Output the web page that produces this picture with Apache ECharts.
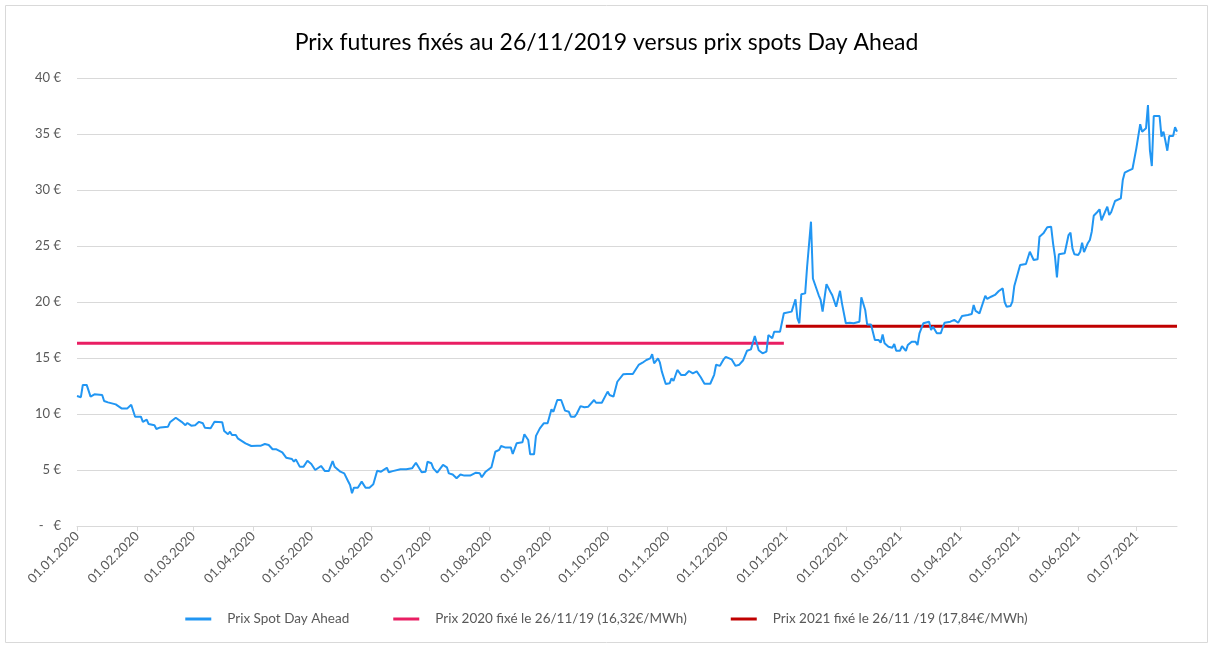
<!DOCTYPE html>
<html>
<head>
<meta charset="utf-8">
<script src="https://cdn.jsdelivr.net/npm/echarts@6/dist/echarts.min.js"></script>
<style>
  html, body { margin: 0; padding: 0; background: #fff; }
  #chart { width: 1213px; height: 648px; }
</style>
</head>
<body>
<div id="chart"></div>
<script>
// axis runs day by day from 01.01.2020 to 22.07.2021
var startDate = new Date(Date.UTC(2020, 0, 1));
var dayCount = 569;

// spot price: day offset from 01.01.2020 and price in €/MWh
var spotDay = [0, 2, 3, 5, 7, 9, 10, 13, 14, 16, 17, 20, 21, 23, 26, 27, 28, 30, 33, 34, 36, 37, 40, 41, 43, 47, 48, 51, 52, 54,
    56, 57, 59, 61, 63, 65, 66, 69, 71, 75, 76, 78, 79, 80, 82, 83, 87, 90, 93, 95, 97, 99, 101, 103, 104, 106, 108, 111, 112, 113,
    115, 117, 119, 121, 123, 124, 126, 127, 128, 130, 132, 133, 136, 138, 140, 141, 142, 143, 145, 147, 149, 151, 153, 155, 157, 158, 160, 161, 163, 167,
    170, 173, 174, 175, 176, 178, 180, 181, 183, 184, 186, 187, 189, 191, 192, 194, 196, 198, 200, 201, 203, 206, 208, 209, 211, 212, 214, 215, 216, 218,
    219, 221, 222, 224, 225, 227, 230, 231, 233, 234, 236, 237, 239, 240, 241, 243, 245, 246, 248, 250, 252, 254, 255, 257, 258, 260, 262, 264, 267, 268,
    271, 274, 275, 277, 278, 279, 280, 282, 284, 287, 288, 290, 292, 294, 296, 297, 298, 299, 300, 301, 302, 304, 306, 307, 308, 310, 312, 314, 316, 318,
    320, 322, 324, 327, 329, 330, 332, 334, 335, 336, 338, 340, 342, 344, 346, 348, 350, 352, 354, 356, 357, 359, 360, 363, 365, 366, 369, 371, 372, 373,
    374, 376, 377, 379, 380, 381, 383, 384, 385, 387, 388, 389, 390, 392, 393, 394, 395, 396, 397, 399, 400, 401, 402, 404, 405, 407, 408, 410, 412, 413,
    414, 415, 416, 417, 418, 419, 421, 422, 423, 425, 426, 428, 429, 431, 433, 434, 435, 437, 438, 440, 441, 442, 444, 446, 447, 448, 451, 452, 453, 455,
    457, 460, 462, 463, 464, 466, 467, 469, 470, 472, 473, 474, 476, 477, 478, 479, 480, 482, 483, 484, 485, 487, 488, 490, 491, 492, 493, 494, 495, 496,
    497, 499, 500, 501, 503, 504, 505, 506, 507, 510, 511, 512, 513, 514, 515, 517, 518, 519, 520, 521, 522, 523, 524, 525, 527, 528, 529, 530, 532, 533,
    534, 536, 537, 539, 540, 541, 543, 545, 547, 549, 550, 551, 552, 553, 554, 555, 556, 559, 560, 561, 562, 563, 564, 566, 567, 568];
var spotPrice = [11.6, 11.5, 12.6, 12.6, 11.55, 11.76, 11.6, 11.7, 11.16, 11.04, 10.9, 10.86, 10.9, 10.5, 10.5, 10.4, 10.83, 9.76, 9.76, 9.3, 9.5, 9.1, 9.0, 8.66, 8.8, 8.87, 9.26, 9.67, 9.5, 9.3,
    9.0, 9.2, 8.96, 9.0, 9.3, 9.17, 8.78, 8.72, 9.3, 9.26, 8.48, 8.19, 8.42, 8.13, 8.13, 7.83, 7.38, 7.14, 7.17, 7.17, 7.32, 7.23, 6.85, 6.85, 6.94, 6.58, 6.1, 5.98, 5.74, 5.95,
    5.3, 5.3, 5.83, 5.54, 5.0, 5.0, 5.36, 5.2, 4.9, 4.9, 5.8, 5.3, 4.85, 4.7, 4.0, 3.66, 2.92, 3.42, 3.42, 3.96, 3.42, 3.42, 3.72, 4.94, 4.85, 4.78, 5.2, 4.8, 4.9, 5.06,
    5.06, 5.15, 5.24, 5.65, 5.54, 4.8, 4.85, 5.74, 5.6, 5.15, 4.76, 4.85, 5.45, 5.24, 4.7, 4.6, 4.26, 4.6, 4.5, 4.6, 4.5, 4.76, 4.7, 4.35, 4.85, 4.94, 5.24, 5.24, 6.63, 6.8,
    7.14, 7.02, 7.08, 7.02, 6.43, 7.38, 7.47, 8.19, 7.68, 6.4, 6.4, 8.05, 8.72, 8.63, 9.17, 9.17, 10.42, 10.2, 11.25, 11.25, 10.3, 10.2, 9.76, 9.76, 10.0, 10.7, 10.6, 10.65, 11.25, 11.0,
    11.0, 12.0, 11.7, 11.55, 11.6, 12.88, 12.74, 13.54, 13.57, 13.57, 13.4, 14.38, 14.58, 14.82, 14.97, 15.33, 14.52, 14.52, 14.97, 14.58, 13.78, 12.68, 12.74, 13.19, 12.95, 13.93, 13.48, 13.48, 13.84, 13.63,
    13.8, 13.3, 12.7, 12.7, 13.5, 14.4, 14.3, 14.9, 15.1, 14.97, 14.88, 14.3, 14.4, 14.8, 15.65, 15.77, 16.96, 15.7, 15.42, 15.57, 17.05, 16.76, 17.35, 17.35, 18.99, 19.05, 19.14, 20.24, 18.54, 18.1,
    20.69, 20.77, 23.15, 27.17, 22.1, 21.96, 20.6, 20.18, 19.14, 21.6, 21.5, 20.92, 20.6, 19.58, 19.58, 21.0, 19.88, 20.03, 18.1, 18.15, 18.0, 18.1, 18.19, 18.24, 20.42, 19.29, 18.0, 18.0, 16.6, 16.46,
    16.6, 16.37, 17.11, 16.31, 16.37, 16.01, 15.92, 16.25, 15.65, 15.65, 16.07, 15.63, 16.16, 16.46, 16.46, 16.16, 17.2, 18.1, 18.24, 18.24, 17.5, 17.8, 17.2, 17.2, 17.7, 18.15, 18.24, 18.1, 18.4, 18.15,
    18.75, 18.84, 18.93, 19.73, 19.2, 18.99, 18.99, 20.56, 20.27, 20.47, 20.38, 20.63, 20.98, 21.07, 21.22, 20.0, 19.58, 19.64, 20.03, 21.43, 21.52, 23.3, 23.45, 23.39, 23.45, 24.49, 24.55, 23.75, 23.75, 23.81,
    25.83, 26.13, 25.98, 26.67, 26.72, 25.24, 24.05, 22.2, 24.26, 24.35, 24.29, 25.98, 26.19, 24.79, 24.26, 24.2, 24.49, 25.3, 24.45, 24.45, 25.27, 25.54, 26.3, 27.7, 28.06, 28.28, 27.3, 27.32, 28.51, 27.77,
    28.01, 29.02, 29.1, 29.26, 30.89, 31.55, 31.73, 31.88, 33.72, 35.87, 35.21, 35.21, 35.51, 37.59, 33.57, 32.14, 36.6, 36.6, 34.76, 35.21, 34.4, 33.51, 34.82, 34.82, 35.6, 35.21];

// fixed futures prices
var fixed2020 = 16.32;
var fixed2020Days = [0, 365];
var fixed2021 = 17.84;
var fixed2021Days = [366, 568];

var seriesNames = ['Prix Spot Day Ahead', 'Prix 2020 fixé le 26/11/19 (16,32€/MWh)', 'Prix 2021 fixé le 26/11 /19 (17,84€/MWh)'];
var titleText = 'Prix futures fixés au 26/11/2019 versus prix spots Day Ahead';

var categories = [];
for (var i = 0; i < dayCount; i++) {
    var d = new Date(startDate.getTime() + i * 86400000);
    var dd = ('0' + d.getUTCDate()).slice(-2);
    var mm = ('0' + (d.getUTCMonth() + 1)).slice(-2);
    categories.push(dd + '.' + mm + '.' + d.getUTCFullYear());
}

function pairs(days, vals) {
    var out = [];
    for (var i = 0; i < days.length; i++) out.push([days[i], vals[i]]);
    return out;
}
function flat(days, v) {
    return [[days[0], v], [days[1], v]];
}
function isMonthStart(index, value) {
    return value.slice(0, 3) === '01.';
}

var chart = echarts.init(document.getElementById('chart'));
var option = {
    animation: false,
    textStyle: { fontFamily: 'Lato' },
    title: {
        text: titleText,
        left: 'center',
        top: 26,
        textStyle: { fontFamily: 'Lato', fontSize: 23, fontWeight: 'normal', color: '#000' }
    },
    graphic: [{
        type: 'rect',
        shape: { x: 5.5, y: 5.5, width: 1202, height: 637 },
        style: { fill: 'none', stroke: '#d9d9d9', lineWidth: 1 },
        silent: true
    }],
    legend: {
        bottom: 17,
        left: 'center',
        itemGap: 44,
        itemWidth: 26,
        itemHeight: 3,
        icon: 'rect',
        textStyle: { fontFamily: 'Lato', fontSize: 13.5, color: '#595959', padding: [0, 0, 0, 11] },
        data: seriesNames
    },
    grid: { left: 77, right: 36, top: 78, bottom: 122 },
    xAxis: {
        type: 'category',
        boundaryGap: false,
        data: categories,
        axisLine: { lineStyle: { color: '#d9d9d9' } },
        axisTick: { interval: isMonthStart, length: 5, lineStyle: { color: '#d9d9d9' } },
        axisLabel: {
            interval: isMonthStart,
            rotate: 45,
            margin: 8,
            fontFamily: 'Lato',
            fontSize: 13,
            color: '#595959'
        },
        splitLine: { show: false }
    },
    yAxis: {
        type: 'value',
        min: 0,
        max: 40,
        interval: 5,
        axisLine: { show: false },
        axisTick: { show: false },
        axisLabel: {
            fontFamily: 'Lato',
            fontSize: 13,
            color: '#595959',
            margin: 16,
            formatter: function (v) { return v === 0 ? '-   €' : v + ' €'; }
        },
        splitLine: { lineStyle: { color: '#d9d9d9' } }
    },
    series: [
        {
            name: seriesNames[0],
            type: 'line',
            data: pairs(spotDay, spotPrice),
            showSymbol: false,
            color: '#2196F3',
            lineStyle: { width: 2, color: '#2196F3' },
            z: 3
        },
        {
            name: seriesNames[1],
            type: 'line',
            data: flat(fixed2020Days, fixed2020),
            showSymbol: false,
            color: '#E91E63',
            lineStyle: { width: 3, color: '#E91E63' },
            z: 2
        },
        {
            name: seriesNames[2],
            type: 'line',
            data: flat(fixed2021Days, fixed2021),
            showSymbol: false,
            color: '#C00000',
            lineStyle: { width: 3, color: '#C00000' },
            z: 2
        }
    ]
};
chart.setOption(option);
</script>
</body>
</html>
